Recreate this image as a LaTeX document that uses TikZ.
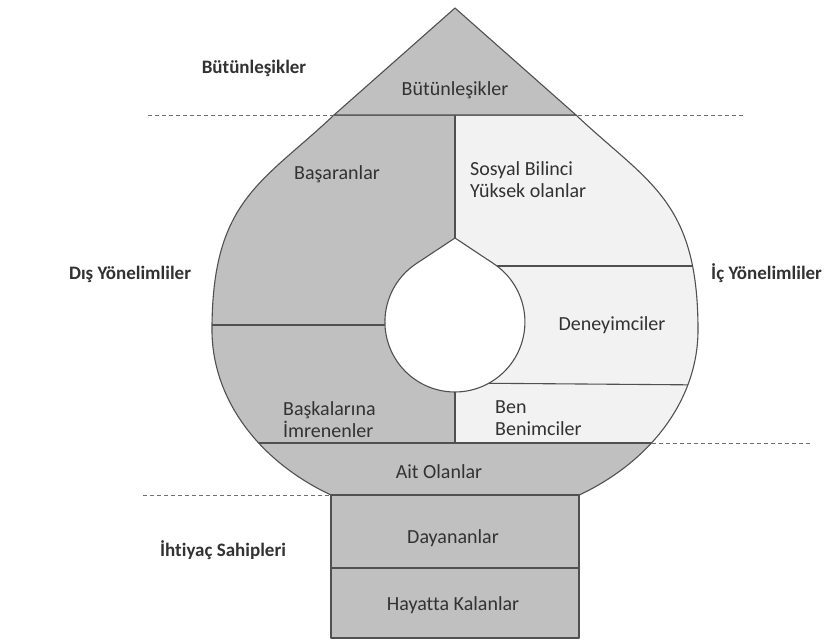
\documentclass[tikz,border=0pt]{standalone}
\usepackage{fontspec}
\setmainfont{Carlito}[Ligatures={NoCommon}]
\definecolor{darkf}{RGB}{192,192,192}
\definecolor{lightf}{RGB}{242,242,242}
\definecolor{lineg}{RGB}{80,80,80}
\definecolor{dashg}{RGB}{110,110,110}
\definecolor{txt}{RGB}{50,50,50}
\begin{document}
\begin{tikzpicture}[x=1pt,y=-1pt,
  outline/.style={draw=lineg, line width=1.1pt, line join=round},
  guide/.style={draw=dashg, line width=1pt, dash pattern=on 4pt off 3pt},
  lbl/.style={font=\fontsize{20}{22}\selectfont, text=txt, inner sep=0pt},
  side/.style={font=\bfseries\fontsize{19}{22}\selectfont, text=txt, inner sep=0pt}]
\useasboundingbox (0,0) rectangle (824,641);
% dome filled dark
\fill[darkf] (334,115) -- (576,115) .. controls (648,183) and (698,200) .. (698,330)
  arc[start angle=0,end angle=59.32,x radius=243,y radius=192] -- (331,495)
  arc[start angle=120.68,end angle=180,x radius=243,y radius=192]
  .. controls (212,200) and (262,183) .. (334,115) -- cycle;
% light region
\fill[lightf] (455,115) -- (576,115) .. controls (648,183) and (698,200) .. (698,330)
  arc[start angle=0,end angle=36.05,x radius=243,y radius=192] -- (455,443) -- (455,392)
  arc[start angle=90,end angle=-56.5,radius=70] -- (455,238) -- cycle;
% inner lines
\begin{scope}
\clip (334,115) -- (576,115) .. controls (648,183) and (698,200) .. (698,330)
  arc[start angle=0,end angle=59.32,x radius=243,y radius=192] -- (331,495)
  arc[start angle=120.68,end angle=180,x radius=243,y radius=192]
  .. controls (212,200) and (262,183) .. (334,115) -- cycle;
\draw[outline] (455,115) -- (455,443);
\draw[outline] (200,325) -- (455,325);
\draw[outline] (455,266) -- (710,266);
\draw[outline] (455,383) -- (710,385);
\draw[outline] (200,443) -- (710,443);
\end{scope}
% inner drop
\filldraw[fill=white, outline] (455,238) -- (416.3,263.6)
  arc[start angle=236.5,end angle=-56.5,radius=70] -- cycle;
% dome outline
\draw[outline] (334,115) -- (576,115) .. controls (648,183) and (698,200) .. (698,330)
  arc[start angle=0,end angle=59.32,x radius=243,y radius=192]
  (331,495)
  arc[start angle=120.68,end angle=180,x radius=243,y radius=192]
  .. controls (212,200) and (262,183) .. (334,115);
% triangle
\filldraw[fill=darkf, outline] (455,8) -- (576,115) -- (334,115) -- cycle;
% box
\filldraw[fill=darkf, outline] (331,495) rectangle (579,638);
\draw[outline] (331,568) -- (579,568);
% dashed guides
\draw[guide] (148,115) -- (334,115);
\draw[guide] (578,115) -- (745,115);
\draw[guide] (652,443) -- (810,443);
\draw[guide] (143,495) -- (331,495);
% labels
\node[lbl] (tri) at (455,90) {Bütünleşikler};
\node[side] (lb) at (254,68) {Bütünleşikler};
\node[lbl] (bas) at (337,174) {Başaranlar};
\node[lbl, anchor=west, align=left] (sos) at (470,180) {Sosyal Bilinci\\Yüksek olanlar};
\node[lbl] (den) at (612,325) {Deneyimciler};
\node[lbl, anchor=west, align=left] (bask) at (283,419.5) {Başkalarına\\İmrenenler};
\node[lbl, anchor=west, align=left] (ben) at (495,418) {Ben\\Benimciler};
\node[lbl] (ait) at (439,472) {Ait Olanlar};
\node[lbl] (day) at (453,538) {Dayananlar};
\node[lbl] (hay) at (453,605) {Hayatta Kalanlar};
\node[side] (dis) at (130,274) {Dış Yönelimliler};
\node[side, anchor=west] (ic) at (711,273) {İç Yönelimliler};
\node[side] (iht) at (223,550) {İhtiyaç Sahipleri};
\end{tikzpicture}
\end{document}
